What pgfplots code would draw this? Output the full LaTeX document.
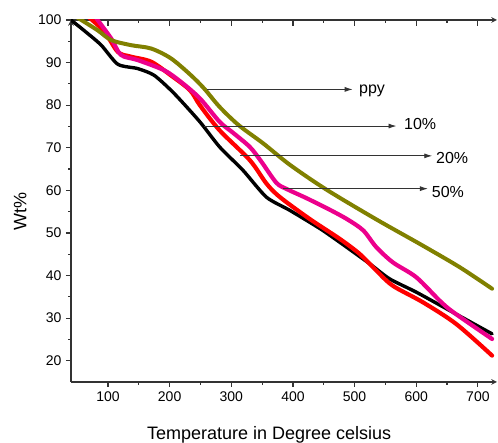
\documentclass[border=0pt]{standalone}
\usepackage{pgfplots}
\pgfplotsset{compat=1.18}
\usepackage{fontspec}
\setmainfont{Liberation Sans}
\usetikzlibrary{arrows.meta}

\definecolor{axisgray}{HTML}{333333}
\definecolor{ppyolive}{HTML}{808000}

% TGA curves (temperature in degC, weight %)
\pgfplotstableread{
x y
40 100
64 97.2
89 94.1
116 89.6
148 88.6
175 87.0
207 82.8
249 76.1
281 70.2
319 64.7
357 58.4
395 55.3
444 51.0
476 47.8
525 42.7
557 39.2
600 36.1
654 31.8
723 26.3
}\blackdata
\pgfplotstableread{
x y
66 101
94 97.3
116 92.5
137 91.4
170 90.2
202 87.0
233 83.5
249 80.0
281 74.1
330 67.1
357 61.6
379 58.4
427 53.3
476 48.6
508 45.1
535 41.2
562 37.6
611 33.7
665 28.6
723 21.2
}\reddata
\pgfplotstableread{
x y
78 101
105 95.7
121 91.8
148 90.6
191 88.2
218 85.5
249 81.6
281 76.1
303 73.5
330 70.2
348 66.9
373 61.8
390 60.3
420 58.3
455 55.8
487 53.3
514 50.6
535 46.7
562 43.1
600 39.6
638 34.1
660 31.4
723 25.1
}\magentadata
\pgfplotstableread{
x y
50 100.6
83 97.6
105 95.3
137 94.1
170 93.3
202 91.0
234 87.1
256 83.9
281 79.6
312 75.3
352 71.0
395 66.0
454 60.2
535 53.2
606 47.4
670 42.0
723 36.9
}\ppydata

\begin{document}
\begin{tikzpicture}
\useasboundingbox (0,0) rectangle (498pt,443pt);
\pgfplotsset{
  tgaframe/.style={
    at={(71pt,61pt)}, anchor=south west,
    scale only axis, width=426pt, height=362pt,
    xmin=40, xmax=731, ymin=15, ymax=100,
    axis line style={-, color=axisgray, line width=1.5pt},
    every tick/.style={axisgray, line width=1.2pt},
    major tick length=5pt, minor tick length=3pt,
    xtick={100,200,...,700}, minor x tick num=1,
  }
}
% top frame line with inward ticks
\begin{axis}[tgaframe,
  axis x line=top, axis y line=none,
  tick align=inside, major tick length=6.5pt, minor tick length=3.5pt,
  xticklabels={}]
\end{axis}
\begin{axis}[tgaframe,
  axis x line=bottom, axis y line=left,
  tick align=outside,
  ytick={20,30,...,100}, minor y tick num=1,
  tick label style={font=\fontsize{14}{16}\selectfont},
  /pgf/number format/assume math mode=true,
  xticklabel style={yshift=-1pt},
  yticklabel style={xshift=-1pt},
  xlabel={Temperature in Degree celsius},
  ylabel={Wt\%},
  label style={font=\fontsize{18}{20}\selectfont},
  xlabel style={at={(axis description cs:0.465,-0.160)}, anchor=base},
  ylabel style={at={(axis description cs:-0.1045,0.472)}, anchor=base, rotate=0},
  clip=true,
  every axis plot/.append style={line join=round, line cap=round},
]
\addplot[black, line width=3.4pt, smooth, tension=0.4] table[x=x,y=y] {\blackdata};
\addplot[red, line width=4.2pt, smooth, tension=0.5] table[x=x,y=y] {\reddata};
\addplot[magenta, line width=4.2pt, smooth, tension=0.5] table[x=x,y=y] {\magentadata};
\addplot[ppyolive, line width=4pt, smooth, tension=0.5] table[x=x,y=y] {\ppydata};

% labelling arrows
\begin{scope}[black!80, line width=0.9pt, -{Latex[length=8pt,width=5pt]}]
\draw (axis cs:261,83.7) -- (axis cs:497,83.7);
\draw (axis cs:256,75.1) -- (axis cs:568,75.1);
\draw (axis cs:314,68.1) -- (axis cs:626,68.1);
\draw (axis cs:384,60.4) -- (axis cs:619,60.4);
\end{scope}
\begin{scope}[every node/.style={anchor=base west, inner sep=0pt, font=\fontsize{16}{18}\selectfont}]
\node at (axis cs:507,82.8) {ppy};
\node at (axis cs:580,74.3) {10\%};
\node at (axis cs:632,66.2) {20\%};
\node at (axis cs:625,58.4) {50\%};
\end{scope}
\end{axis}
\end{tikzpicture}
\end{document}
